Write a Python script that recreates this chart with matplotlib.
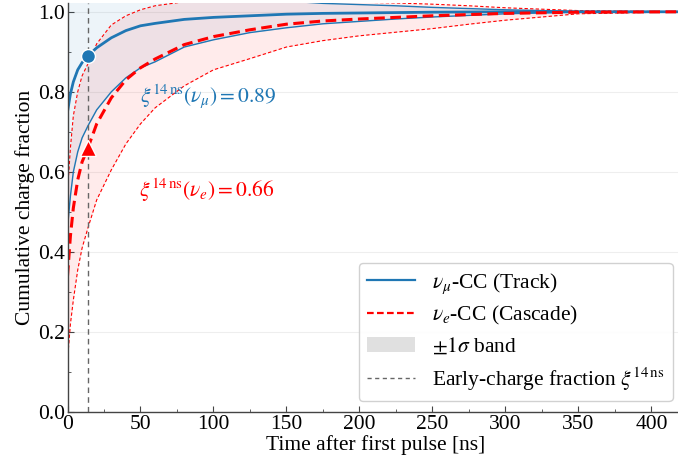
import matplotlib
matplotlib.use("Agg")
import matplotlib.pyplot as plt
from matplotlib.lines import Line2D
from matplotlib.patches import Patch
from matplotlib.ticker import MultipleLocator

plt.rcParams["font.family"] = ["Liberation Serif", "DejaVu Serif"]
plt.rcParams["mathtext.fontset"] = "stix"

# Time after first pulse [ns]
t_ns = [0, 2, 4, 7, 10, 14, 20, 30, 40, 50, 60, 80, 100, 125, 150, 175, 200, 225, 250, 275,
        300, 350, 422]

# nu_mu CC (track): mean cumulative charge fraction and 1-sigma band edges
mu_mean = [0.75, 0.795, 0.825, 0.855, 0.873, 0.89, 0.91, 0.935, 0.953, 0.965, 0.971,
           0.981, 0.986, 0.990, 0.994, 0.996, 0.997, 0.998, 0.999, 0.9995,
           1.0, 1.0, 1.0]
mu_low = [0.46, 0.54, 0.60, 0.65, 0.685, 0.715, 0.755, 0.80, 0.835, 0.86, 0.875,
          0.912, 0.93, 0.948, 0.96, 0.97, 0.976, 0.982, 0.987, 0.991,
          0.995, 0.999, 1.0]
mu_high = [1.04, 1.05, 1.05, 1.06, 1.06, 1.065, 1.065, 1.07, 1.07, 1.07, 1.065,
           1.05, 1.042, 1.032, 1.027, 1.021, 1.018, 1.015, 1.011, 1.008,
           1.005, 1.001, 1.0]

# nu_e CC (cascade)
e_mean = [0.34, 0.44, 0.51, 0.58, 0.625, 0.66, 0.72, 0.785, 0.83, 0.86, 0.882,
          0.918, 0.938, 0.955, 0.969, 0.977, 0.982, 0.986, 0.990, 0.993,
          0.996, 0.999, 1.0]
e_low = [0.13, 0.22, 0.28, 0.355, 0.41, 0.46, 0.53, 0.605, 0.67, 0.72, 0.76,
         0.815, 0.855, 0.883, 0.912, 0.928, 0.94, 0.949, 0.958, 0.969,
         0.979, 0.995, 1.0]
e_high = [0.55, 0.66, 0.74, 0.80, 0.84, 0.87, 0.92, 0.967, 0.99, 1.005, 1.015,
          1.025, 1.03, 1.03, 1.028, 1.026, 1.024, 1.022, 1.019, 1.015,
          1.01, 1.003, 1.0]

# Early-charge window and the resulting fractions
t_early = 14
xi_mu = 0.89
xi_e = 0.66

blue = "#1f77b4"
red = "#ff0000"
fs = 15.5

fig = plt.figure(figsize=(6.78, 4.63), dpi=100)
ax = fig.add_axes([67.5 / 678, 0.110, 616 / 678, 0.884])

ax.fill_between(t_ns, mu_low, mu_high, color=blue, alpha=0.08, lw=0)
ax.fill_between(t_ns, e_low, e_high, color=red, alpha=0.08, lw=0)

ax.plot(t_ns, mu_low, color=blue, lw=1.0)
ax.plot(t_ns, mu_high, color=blue, lw=1.0)
ax.plot(t_ns, e_low, color=red, lw=0.8, ls=(0, (3, 2)))
ax.plot(t_ns, e_high, color=red, lw=0.8, ls=(0, (3, 2)))

ax.plot(t_ns, mu_mean, color=blue, lw=2.0)
ax.plot(t_ns, e_mean, color=red, lw=2.2, ls=(0, (3.5, 1.8)))

ax.axvline(t_early, color="#666666", lw=1.0, ls=(0, (4, 3)))

ax.plot([t_early], [xi_mu], "o", color=blue, ms=10, mec="white", mew=1.0, zorder=5)
ax.plot([t_early], [xi_e], "^", color=red, ms=11, mec="white", mew=1.0, zorder=5)

ax.text(50, 0.79, r"$\xi^{14\,\mathrm{ns}}(\nu_\mu) = %.2f$" % xi_mu,
        color=blue, fontsize=fs, va="center", ha="left")
ax.text(49, 0.555, r"$\xi^{14\,\mathrm{ns}}(\nu_e) = %.2f$" % xi_e,
        color=red, fontsize=fs, va="center", ha="left")

ax.set_xlim(0, 422)
ax.set_ylim(0, 1.0225)
ax.xaxis.set_major_locator(MultipleLocator(50))
ax.xaxis.set_minor_locator(MultipleLocator(25))
ax.yaxis.set_major_locator(MultipleLocator(0.2))
ax.yaxis.set_minor_locator(MultipleLocator(0.1))
ax.yaxis.grid(True, color="#eeeeee", lw=0.8)
ax.set_axisbelow(True)

for side in ("top", "right"):
    ax.spines[side].set_visible(False)
for side in ("left", "bottom"):
    ax.spines[side].set_color("#444444")
    ax.spines[side].set_linewidth(1.0)

ax.tick_params(which="both", direction="in", colors="#444444", labelcolor="black", labelsize=fs)
ax.tick_params(which="major", length=4, pad=2)
ax.tick_params(which="minor", length=2.5)

ax.set_xlabel("Time after first pulse [ns]", fontsize=fs, labelpad=1)
ax.set_ylabel("Cumulative charge fraction", fontsize=fs, labelpad=2)

handles = [
    Line2D([], [], color=blue, lw=1.6),
    Line2D([], [], color=red, lw=1.6, ls=(0, (3, 1.5))),
    Patch(facecolor="#e0e0e0", edgecolor="none"),
    Line2D([], [], color="#666666", lw=1.0, ls=(0, (3, 2.5))),
]
labels = [
    r"$\nu_\mu$-CC (Track)",
    r"$\nu_e$-CC (Cascade)",
    r"$\pm 1\sigma$ band",
    r"Early-charge fraction $\xi^{14\,\mathrm{ns}}$",
]
leg = ax.legend(handles, labels, loc="lower right", fontsize=fs, frameon=True,
                fancybox=True, edgecolor="#cccccc", framealpha=0.9,
                handlelength=2.2, labelspacing=0.4, borderaxespad=0.5)

fig.savefig("out.png", dpi=100)
